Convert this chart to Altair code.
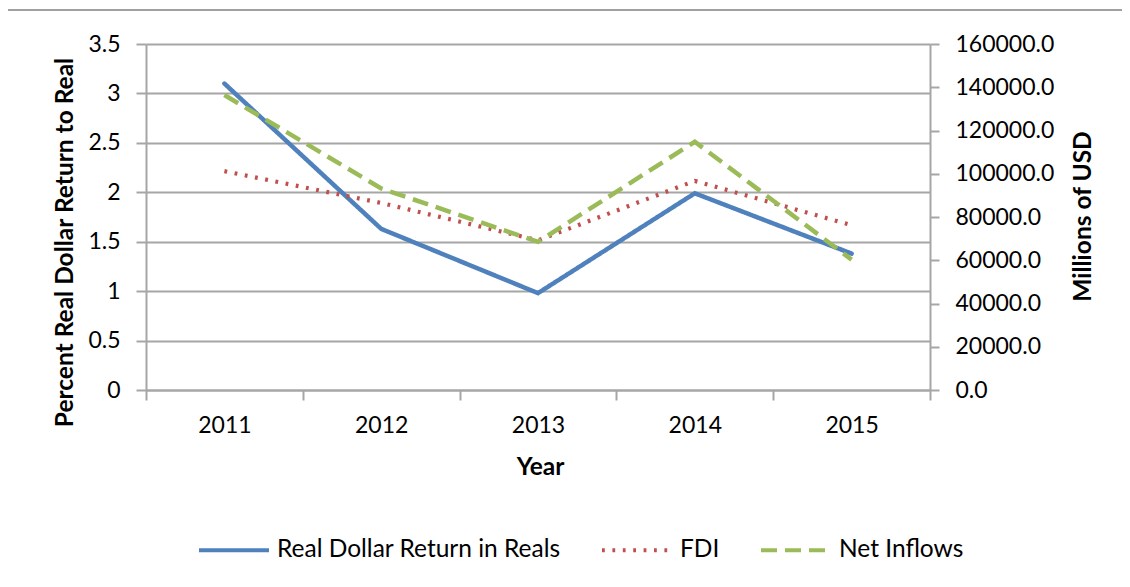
import altair as alt
import pandas as pd

years = ["2011", "2012", "2013", "2014", "2015"]
real_return = [3.1, 1.63, 0.98, 1.99, 1.38]
fdi = [101200, 86500, 69200, 96700, 76200]
net_inflows = [136400, 93200, 68500, 114800, 60300]

series_names = ["Real Dollar Return in Reals", "FDI", "Net Inflows"]
series_colors = ["#4F81BD", "#C0504D", "#9BBB59"]
series_dashes = [[1, 0], [2.8, 7.6], [16, 8]]

rows = []
for name, vals in zip(series_names, [real_return, fdi, net_inflows]):
    for y, v in zip(years, vals):
        rows.append({"year": y, "series": name, "value": v})
df = pd.DataFrame(rows)

FONT = "Lato"
GRID = "#a6a6a6"
W, H = 784, 346
PAD = {"left": 138, "top": 36, "right": 192, "bottom": 184}

legend_opts = dict(
    title=None, orient="none", direction="horizontal", legendX=51, legendY=469,
    symbolType="stroke", symbolSize=4900, symbolStrokeWidth=4,
    labelFontSize=24.5, labelFont=FONT, labelColor="#000", labelOffset=6,
    columnPadding=33, labelLimit=400,
)

x_enc = alt.X(
    "year:O",
    scale=alt.Scale(type="band", paddingInner=0, paddingOuter=0),
    axis=alt.Axis(
        title="Year", tickBand="extent", labelAngle=0, tickSize=10, labelPadding=14,
        titleX=394, titleY=77, titleBaseline="middle", titleAlign="center",
    ),
)
color_enc = alt.Color(
    "series:N",
    scale=alt.Scale(domain=series_names, range=series_colors),
    legend=alt.Legend(**legend_opts),
)
dash_enc = alt.StrokeDash(
    "series:N",
    scale=alt.Scale(domain=series_names, range=series_dashes),
    legend=alt.Legend(**legend_opts),
)

base = alt.Chart(df)

blue = base.transform_filter(alt.datum.series == series_names[0]).mark_line(
    strokeWidth=4.5, strokeCap="round", strokeJoin="miter"
).encode(
    x=x_enc,
    y=alt.Y(
        "value:Q",
        scale=alt.Scale(domain=[0, 3.5], nice=False, zero=True),
        axis=alt.Axis(
            orient="left", values=[0, 0.5, 1, 1.5, 2, 2.5, 3, 3.5], format="~g",
            grid=True, tickSize=10, labelPadding=16,
            title="Percent Real Dollar Return to Real", titleAngle=270,
            titleX=-81, titleY=198, titleAlign="center", titleBaseline="middle",
        ),
    ),
    color=color_enc,
    strokeDash=dash_enc,
)

right_y = alt.Y(
    "value:Q",
    scale=alt.Scale(domain=[0, 160000], nice=False, zero=True),
    axis=alt.Axis(
        orient="right", values=list(range(0, 160001, 20000)), format=".1f",
        grid=False, tickSize=9, labelPadding=16,
        title="Millions of USD", titleAngle=270,
        titleX=153, titleY=172, titleAlign="center", titleBaseline="middle",
    ),
)

red = base.transform_filter(alt.datum.series == series_names[1]).mark_line(
    strokeWidth=4.2, strokeCap="butt"
).encode(x=x_enc, y=right_y, color=color_enc, strokeDash=dash_enc)

green = base.transform_filter(alt.datum.series == series_names[2]).mark_line(
    strokeWidth=4.5, strokeCap="butt"
).encode(x=x_enc, y=right_y, color=color_enc, strokeDash=dash_enc)

right_layer = alt.layer(red, green)

# outer figure frame (its top edge shows; the rest lies outside the surface)
frame = alt.Chart(alt.Data(values=[{}])).mark_rect(
    filled=False, stroke="#a0a0a0", strokeWidth=2
).encode(
    x=alt.value(-139), x2=alt.value(1300), y=alt.value(-34), y2=alt.value(800)
)

chart = (
    alt.layer(blue, right_layer, frame)
    .resolve_scale(y="independent")
    .properties(
        width=W,
        height=H,
        autosize=alt.AutoSizeParams(type="none"),
        padding=PAD,
    )
    .configure_view(stroke=None)
    .configure_axis(
        labelFont=FONT, labelFontSize=23, labelColor="#000",
        titleFont=FONT, titleFontSize=24.5, titleFontWeight="bold", titleColor="#000",
        domainColor=GRID, domainWidth=2, tickColor=GRID, tickWidth=2,
        gridColor=GRID, gridWidth=2,
    )
)

chart.save("out.html", embed_options={"renderer": "svg", "actions": False})
